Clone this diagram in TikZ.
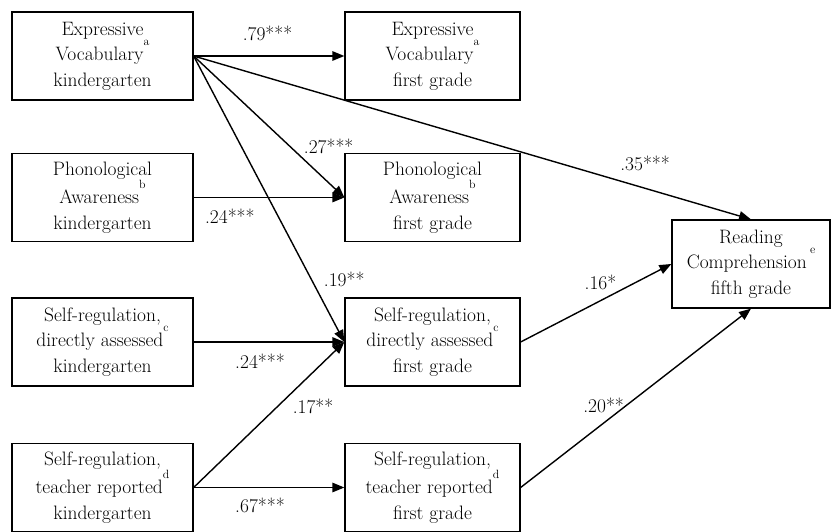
\documentclass[tikz,border=0pt]{standalone}
\usetikzlibrary{positioning,arrows.meta}

\newcommand{\fsz}{\fontsize{19.5}{25.5}\selectfont}
\newcommand{\supx}[1]{\raisebox{15bp}{\fontsize{12}{12}\selectfont #1}}

\begin{document}
\begin{tikzpicture}[
x=1bp, y=-1bp,
varnode/.style={draw, line width=1.3bp, minimum height=88bp, align=center, font=\fsz, inner sep=0pt},
leftnode/.style={varnode, minimum width=181bp},
midnode/.style={varnode, minimum width=175bp},
outnode/.style={varnode, minimum width=158bp},
path/.style={line width=1.4bp, -{Triangle[length=12bp,width=9.5bp]}},
coef/.style={font=\fsz, inner sep=1bp},
]
\useasboundingbox (0,0) rectangle (832,532);

\node[leftnode]          (evk)      at (102.5,56) 		 {Expressive\\Vocabulary\supx{a}\\kindergarten};
\node[leftnode]          (pak)      at (102.5,197.5) 	 {Phonological\\Awareness\supx{b}\\kindergarten};
\node[leftnode]          (sdk)      at (102.5,342) 		 {Self-regulation,\\directly assessed\supx{c}\\kindergarten};
\node[leftnode]          (stk)      at (102.5,487.5) 	 {Self-regulation,\\teacher reported\supx{d}\\kindergarten};

\node[midnode]           (ev1)      at (432.5,56) 		 {Expressive\\Vocabulary\supx{a}\\first grade};
\node[midnode]           (pa1)      at (432.5,197.5) 	 {Phonological\\Awareness\supx{b}\\first grade};
\node[midnode]           (sd1)      at (432.5,342) 		 {Self-regulation,\\directly assessed\supx{c}\\first grade};
\node[midnode]           (st1)      at (432.5,487.5) 	 {Self-regulation,\\teacher reported\supx{d}\\first grade};

\node[outnode]           (rc)       at (751,264) 		 {Reading\\Comprehension\,\supx{e}\\fifth grade};

\draw[path] (evk.east) -- node[coef, above=13bp, pos=.49] {.79***} (ev1.west);
\draw[path] (evk.east) -- node[coef, pos=.75, xshift=22bp, yshift=16bp] {.27***} (pa1.west);
\draw[path] (evk.east) -- node[coef, pos=.78, xshift=33bp] {.19**} (sd1.west);
\draw[path] (evk.east) -- node[coef, pos=.81, yshift=25bp] {.35***} (rc.north);
\draw[path] (pak.east) -- node[coef, below=10bp, pos=.24] {.24***} (pa1.west);
\draw[path] (sdk.east) -- node[coef, below=10bp, pos=.44] {.24***} (sd1.west);
\draw[path] (stk.east) -- node[coef, pos=.56, xshift=35bp] {.17**} (sd1.west);
\draw[path] (stk.east) -- node[coef, below=9bp, pos=.44] {.67***} (st1.west);
\draw[path] (sd1.east) -- node[coef, pos=.53, yshift=18bp] {.16*} (rc.west);
\draw[path] (st1.east) -- node[coef, pos=.36, yshift=18bp] {.20**} (rc.south);

\end{tikzpicture}
\end{document}
